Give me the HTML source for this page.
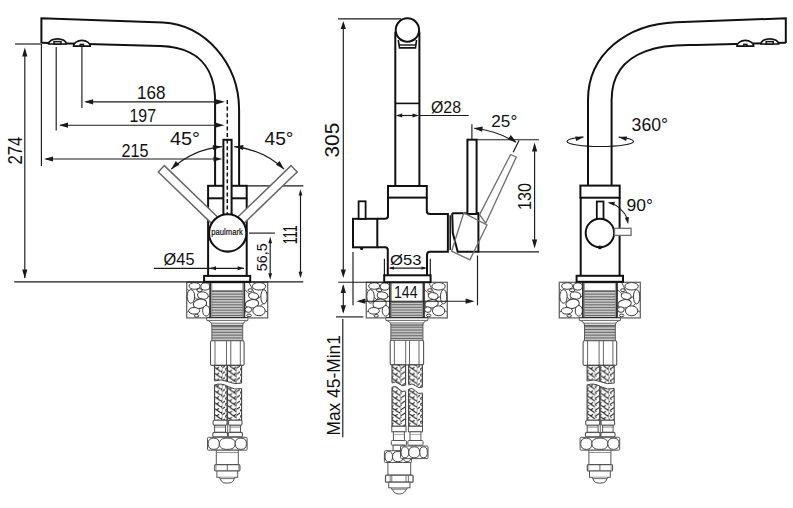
<!DOCTYPE html>
<html><head><meta charset="utf-8"><style>
html,body{margin:0;padding:0;background:#fff;overflow:hidden;width:793px;height:508px;}
svg{display:block;font-family:"Liberation Sans",sans-serif;}
</style></head><body>
<svg width="793" height="508" viewBox="0 0 793 508">
<rect width="793" height="508" fill="#fff"/>
<defs><pattern id="bL" patternUnits="userSpaceOnUse" width="8.5" height="5.9"><rect width="8.5" height="5.9" fill="#fff"/><path d="M0,0 L8.5,5.9 M-8.5,0 L0,5.9 M8.5,-5.9 L17,0 M0,5.9 L2.4,4.2 M4.25,2.95 L6.6,1.3" stroke="#262626" stroke-width="1.1" fill="none"/></pattern><pattern id="bR" patternUnits="userSpaceOnUse" width="5" height="5.9"><rect width="5" height="5.9" fill="#fff"/><path d="M5,0 L0,3.3 M5,5.9 L0,9.2 M5,-5.9 L0,-2.6 M0,3.3 L1.6,4.6" stroke="#262626" stroke-width="1.1" fill="none"/></pattern></defs>
<rect x="186.70" y="282.30" width="23.60" height="35.60" rx="0" stroke="#666" stroke-width="1.3" fill="#fff"/>
<rect x="244.30" y="282.30" width="23.40" height="35.60" rx="0" stroke="#666" stroke-width="1.3" fill="#fff"/>
<line x1="187.30" y1="289.00" x2="197.30" y2="300.00" stroke="#444" stroke-width="0.9" />
<line x1="197.30" y1="300.00" x2="210.30" y2="296.00" stroke="#444" stroke-width="0.9" />
<line x1="187.30" y1="312.00" x2="200.30" y2="305.00" stroke="#444" stroke-width="0.9" />
<line x1="200.30" y1="305.00" x2="210.30" y2="312.00" stroke="#444" stroke-width="0.9" />
<line x1="191.30" y1="283.00" x2="199.30" y2="292.00" stroke="#444" stroke-width="0.9" />
<line x1="205.30" y1="283.00" x2="197.30" y2="300.00" stroke="#444" stroke-width="0.9" />
<line x1="244.30" y1="289.00" x2="255.30" y2="300.00" stroke="#444" stroke-width="0.9" />
<line x1="255.30" y1="300.00" x2="267.30" y2="292.00" stroke="#444" stroke-width="0.9" />
<line x1="244.30" y1="313.00" x2="254.30" y2="304.00" stroke="#444" stroke-width="0.9" />
<line x1="254.30" y1="304.00" x2="267.30" y2="312.00" stroke="#444" stroke-width="0.9" />
<line x1="249.30" y1="283.00" x2="255.30" y2="295.00" stroke="#444" stroke-width="0.9" />
<line x1="267.30" y1="300.00" x2="260.30" y2="306.00" stroke="#444" stroke-width="0.9" />
<ellipse cx="194.60" cy="286.00" rx="5.60" ry="3.30" transform="rotate(0 194.60 286.00)" fill="#fff" stroke="#3a3a3a" stroke-width="1.0"/>
<ellipse cx="205.30" cy="286.50" rx="4.48" ry="3.63" transform="rotate(0 205.30 286.50)" fill="#fff" stroke="#3a3a3a" stroke-width="1.0"/>
<ellipse cx="199.50" cy="290.20" rx="2.58" ry="1.54" transform="rotate(0 199.50 290.20)" fill="#fff" stroke="#3a3a3a" stroke-width="1.0"/>
<ellipse cx="190.90" cy="296.40" rx="3.70" ry="6.82" transform="rotate(0 190.90 296.40)" fill="#fff" stroke="#3a3a3a" stroke-width="1.0"/>
<ellipse cx="202.90" cy="295.50" rx="5.38" ry="3.52" transform="rotate(10 202.90 295.50)" fill="#fff" stroke="#3a3a3a" stroke-width="1.0"/>
<ellipse cx="200.00" cy="303.80" rx="6.72" ry="4.62" transform="rotate(-10 200.00 303.80)" fill="#fff" stroke="#3a3a3a" stroke-width="1.0"/>
<ellipse cx="194.20" cy="310.80" rx="5.60" ry="3.30" transform="rotate(0 194.20 310.80)" fill="#fff" stroke="#3a3a3a" stroke-width="1.0"/>
<ellipse cx="206.20" cy="310.80" rx="3.58" ry="5.28" transform="rotate(0 206.20 310.80)" fill="#fff" stroke="#3a3a3a" stroke-width="1.0"/>
<ellipse cx="196.60" cy="315.80" rx="2.24" ry="1.32" transform="rotate(0 196.60 315.80)" fill="#fff" stroke="#3a3a3a" stroke-width="1.0"/>
<ellipse cx="259.00" cy="286.30" rx="6.72" ry="3.74" transform="rotate(0 259.00 286.30)" fill="#fff" stroke="#3a3a3a" stroke-width="1.0"/>
<ellipse cx="250.30" cy="290.20" rx="2.24" ry="1.43" transform="rotate(0 250.30 290.20)" fill="#fff" stroke="#3a3a3a" stroke-width="1.0"/>
<ellipse cx="253.60" cy="296.00" rx="5.04" ry="3.30" transform="rotate(10 253.60 296.00)" fill="#fff" stroke="#3a3a3a" stroke-width="1.0"/>
<ellipse cx="264.00" cy="296.80" rx="3.14" ry="7.15" transform="rotate(0 264.00 296.80)" fill="#fff" stroke="#3a3a3a" stroke-width="1.0"/>
<ellipse cx="252.00" cy="303.80" rx="6.72" ry="4.18" transform="rotate(-10 252.00 303.80)" fill="#fff" stroke="#3a3a3a" stroke-width="1.0"/>
<ellipse cx="259.00" cy="310.80" rx="6.16" ry="4.95" transform="rotate(0 259.00 310.80)" fill="#fff" stroke="#3a3a3a" stroke-width="1.0"/>
<ellipse cx="248.30" cy="309.60" rx="3.36" ry="2.75" transform="rotate(0 248.30 309.60)" fill="#fff" stroke="#3a3a3a" stroke-width="1.0"/>
<ellipse cx="249.10" cy="315.40" rx="2.24" ry="1.32" transform="rotate(0 249.10 315.40)" fill="#fff" stroke="#3a3a3a" stroke-width="1.0"/>
<rect x="210.30" y="282.30" width="34.00" height="35.60" rx="0" stroke="#333" stroke-width="1.8" fill="#fff"/>
<line x1="211.80" y1="282.30" x2="211.80" y2="317.90" stroke="#777" stroke-width="0.8" />
<line x1="242.80" y1="282.30" x2="242.80" y2="317.90" stroke="#777" stroke-width="0.8" />
<line x1="211.80" y1="291.50" x2="242.80" y2="291.50" stroke="#6a6a6a" stroke-width="1.0" />
<line x1="211.80" y1="293.10" x2="242.80" y2="293.10" stroke="#6a6a6a" stroke-width="1.0" />
<line x1="211.80" y1="294.70" x2="242.80" y2="294.70" stroke="#6a6a6a" stroke-width="1.0" />
<line x1="211.80" y1="296.30" x2="242.80" y2="296.30" stroke="#6a6a6a" stroke-width="1.0" />
<line x1="211.80" y1="297.90" x2="242.80" y2="297.90" stroke="#6a6a6a" stroke-width="1.0" />
<line x1="211.80" y1="299.50" x2="242.80" y2="299.50" stroke="#6a6a6a" stroke-width="1.0" />
<line x1="211.80" y1="301.10" x2="242.80" y2="301.10" stroke="#6a6a6a" stroke-width="1.0" />
<line x1="211.80" y1="302.70" x2="242.80" y2="302.70" stroke="#6a6a6a" stroke-width="1.0" />
<line x1="211.80" y1="304.30" x2="242.80" y2="304.30" stroke="#6a6a6a" stroke-width="1.0" />
<line x1="211.80" y1="305.90" x2="242.80" y2="305.90" stroke="#6a6a6a" stroke-width="1.0" />
<line x1="211.80" y1="307.50" x2="242.80" y2="307.50" stroke="#6a6a6a" stroke-width="1.0" />
<line x1="211.80" y1="309.10" x2="242.80" y2="309.10" stroke="#6a6a6a" stroke-width="1.0" />
<line x1="211.80" y1="310.70" x2="242.80" y2="310.70" stroke="#6a6a6a" stroke-width="1.0" />
<line x1="211.80" y1="312.30" x2="242.80" y2="312.30" stroke="#6a6a6a" stroke-width="1.0" />
<line x1="211.80" y1="313.90" x2="242.80" y2="313.90" stroke="#6a6a6a" stroke-width="1.0" />
<line x1="211.80" y1="315.50" x2="242.80" y2="315.50" stroke="#6a6a6a" stroke-width="1.0" />
<line x1="211.80" y1="317.10" x2="242.80" y2="317.10" stroke="#6a6a6a" stroke-width="1.0" />
<line x1="211.80" y1="290.90" x2="242.80" y2="290.90" stroke="#666" stroke-width="1.3" />
<rect x="366.30" y="282.30" width="23.60" height="35.60" rx="0" stroke="#666" stroke-width="1.3" fill="#fff"/>
<rect x="423.90" y="282.30" width="23.40" height="35.60" rx="0" stroke="#666" stroke-width="1.3" fill="#fff"/>
<line x1="366.90" y1="289.00" x2="376.90" y2="300.00" stroke="#444" stroke-width="0.9" />
<line x1="376.90" y1="300.00" x2="389.90" y2="296.00" stroke="#444" stroke-width="0.9" />
<line x1="366.90" y1="312.00" x2="379.90" y2="305.00" stroke="#444" stroke-width="0.9" />
<line x1="379.90" y1="305.00" x2="389.90" y2="312.00" stroke="#444" stroke-width="0.9" />
<line x1="370.90" y1="283.00" x2="378.90" y2="292.00" stroke="#444" stroke-width="0.9" />
<line x1="384.90" y1="283.00" x2="376.90" y2="300.00" stroke="#444" stroke-width="0.9" />
<line x1="423.90" y1="289.00" x2="434.90" y2="300.00" stroke="#444" stroke-width="0.9" />
<line x1="434.90" y1="300.00" x2="446.90" y2="292.00" stroke="#444" stroke-width="0.9" />
<line x1="423.90" y1="313.00" x2="433.90" y2="304.00" stroke="#444" stroke-width="0.9" />
<line x1="433.90" y1="304.00" x2="446.90" y2="312.00" stroke="#444" stroke-width="0.9" />
<line x1="428.90" y1="283.00" x2="434.90" y2="295.00" stroke="#444" stroke-width="0.9" />
<line x1="446.90" y1="300.00" x2="439.90" y2="306.00" stroke="#444" stroke-width="0.9" />
<ellipse cx="374.20" cy="286.00" rx="5.60" ry="3.30" transform="rotate(0 374.20 286.00)" fill="#fff" stroke="#3a3a3a" stroke-width="1.0"/>
<ellipse cx="384.90" cy="286.50" rx="4.48" ry="3.63" transform="rotate(0 384.90 286.50)" fill="#fff" stroke="#3a3a3a" stroke-width="1.0"/>
<ellipse cx="379.10" cy="290.20" rx="2.58" ry="1.54" transform="rotate(0 379.10 290.20)" fill="#fff" stroke="#3a3a3a" stroke-width="1.0"/>
<ellipse cx="370.50" cy="296.40" rx="3.70" ry="6.82" transform="rotate(0 370.50 296.40)" fill="#fff" stroke="#3a3a3a" stroke-width="1.0"/>
<ellipse cx="382.50" cy="295.50" rx="5.38" ry="3.52" transform="rotate(10 382.50 295.50)" fill="#fff" stroke="#3a3a3a" stroke-width="1.0"/>
<ellipse cx="379.60" cy="303.80" rx="6.72" ry="4.62" transform="rotate(-10 379.60 303.80)" fill="#fff" stroke="#3a3a3a" stroke-width="1.0"/>
<ellipse cx="373.80" cy="310.80" rx="5.60" ry="3.30" transform="rotate(0 373.80 310.80)" fill="#fff" stroke="#3a3a3a" stroke-width="1.0"/>
<ellipse cx="385.80" cy="310.80" rx="3.58" ry="5.28" transform="rotate(0 385.80 310.80)" fill="#fff" stroke="#3a3a3a" stroke-width="1.0"/>
<ellipse cx="376.20" cy="315.80" rx="2.24" ry="1.32" transform="rotate(0 376.20 315.80)" fill="#fff" stroke="#3a3a3a" stroke-width="1.0"/>
<ellipse cx="438.60" cy="286.30" rx="6.72" ry="3.74" transform="rotate(0 438.60 286.30)" fill="#fff" stroke="#3a3a3a" stroke-width="1.0"/>
<ellipse cx="429.90" cy="290.20" rx="2.24" ry="1.43" transform="rotate(0 429.90 290.20)" fill="#fff" stroke="#3a3a3a" stroke-width="1.0"/>
<ellipse cx="433.20" cy="296.00" rx="5.04" ry="3.30" transform="rotate(10 433.20 296.00)" fill="#fff" stroke="#3a3a3a" stroke-width="1.0"/>
<ellipse cx="443.60" cy="296.80" rx="3.14" ry="7.15" transform="rotate(0 443.60 296.80)" fill="#fff" stroke="#3a3a3a" stroke-width="1.0"/>
<ellipse cx="431.60" cy="303.80" rx="6.72" ry="4.18" transform="rotate(-10 431.60 303.80)" fill="#fff" stroke="#3a3a3a" stroke-width="1.0"/>
<ellipse cx="438.60" cy="310.80" rx="6.16" ry="4.95" transform="rotate(0 438.60 310.80)" fill="#fff" stroke="#3a3a3a" stroke-width="1.0"/>
<ellipse cx="427.90" cy="309.60" rx="3.36" ry="2.75" transform="rotate(0 427.90 309.60)" fill="#fff" stroke="#3a3a3a" stroke-width="1.0"/>
<ellipse cx="428.70" cy="315.40" rx="2.24" ry="1.32" transform="rotate(0 428.70 315.40)" fill="#fff" stroke="#3a3a3a" stroke-width="1.0"/>
<rect x="389.90" y="282.30" width="34.00" height="35.60" rx="0" stroke="#333" stroke-width="1.8" fill="#fff"/>
<line x1="391.40" y1="282.30" x2="391.40" y2="317.90" stroke="#777" stroke-width="0.8" />
<line x1="422.40" y1="282.30" x2="422.40" y2="317.90" stroke="#777" stroke-width="0.8" />
<line x1="391.40" y1="302.80" x2="422.40" y2="302.80" stroke="#6a6a6a" stroke-width="1.0" />
<line x1="391.40" y1="304.40" x2="422.40" y2="304.40" stroke="#6a6a6a" stroke-width="1.0" />
<line x1="391.40" y1="306.00" x2="422.40" y2="306.00" stroke="#6a6a6a" stroke-width="1.0" />
<line x1="391.40" y1="307.60" x2="422.40" y2="307.60" stroke="#6a6a6a" stroke-width="1.0" />
<line x1="391.40" y1="309.20" x2="422.40" y2="309.20" stroke="#6a6a6a" stroke-width="1.0" />
<line x1="391.40" y1="310.80" x2="422.40" y2="310.80" stroke="#6a6a6a" stroke-width="1.0" />
<line x1="391.40" y1="312.40" x2="422.40" y2="312.40" stroke="#6a6a6a" stroke-width="1.0" />
<line x1="391.40" y1="314.00" x2="422.40" y2="314.00" stroke="#6a6a6a" stroke-width="1.0" />
<line x1="391.40" y1="315.60" x2="422.40" y2="315.60" stroke="#6a6a6a" stroke-width="1.0" />
<line x1="391.40" y1="317.20" x2="422.40" y2="317.20" stroke="#6a6a6a" stroke-width="1.0" />
<line x1="391.40" y1="302.20" x2="422.40" y2="302.20" stroke="#666" stroke-width="1.3" />
<rect x="559.30" y="282.30" width="23.60" height="35.60" rx="0" stroke="#666" stroke-width="1.3" fill="#fff"/>
<rect x="616.90" y="282.30" width="23.40" height="35.60" rx="0" stroke="#666" stroke-width="1.3" fill="#fff"/>
<line x1="559.90" y1="289.00" x2="569.90" y2="300.00" stroke="#444" stroke-width="0.9" />
<line x1="569.90" y1="300.00" x2="582.90" y2="296.00" stroke="#444" stroke-width="0.9" />
<line x1="559.90" y1="312.00" x2="572.90" y2="305.00" stroke="#444" stroke-width="0.9" />
<line x1="572.90" y1="305.00" x2="582.90" y2="312.00" stroke="#444" stroke-width="0.9" />
<line x1="563.90" y1="283.00" x2="571.90" y2="292.00" stroke="#444" stroke-width="0.9" />
<line x1="577.90" y1="283.00" x2="569.90" y2="300.00" stroke="#444" stroke-width="0.9" />
<line x1="616.90" y1="289.00" x2="627.90" y2="300.00" stroke="#444" stroke-width="0.9" />
<line x1="627.90" y1="300.00" x2="639.90" y2="292.00" stroke="#444" stroke-width="0.9" />
<line x1="616.90" y1="313.00" x2="626.90" y2="304.00" stroke="#444" stroke-width="0.9" />
<line x1="626.90" y1="304.00" x2="639.90" y2="312.00" stroke="#444" stroke-width="0.9" />
<line x1="621.90" y1="283.00" x2="627.90" y2="295.00" stroke="#444" stroke-width="0.9" />
<line x1="639.90" y1="300.00" x2="632.90" y2="306.00" stroke="#444" stroke-width="0.9" />
<ellipse cx="567.20" cy="286.00" rx="5.60" ry="3.30" transform="rotate(0 567.20 286.00)" fill="#fff" stroke="#3a3a3a" stroke-width="1.0"/>
<ellipse cx="577.90" cy="286.50" rx="4.48" ry="3.63" transform="rotate(0 577.90 286.50)" fill="#fff" stroke="#3a3a3a" stroke-width="1.0"/>
<ellipse cx="572.10" cy="290.20" rx="2.58" ry="1.54" transform="rotate(0 572.10 290.20)" fill="#fff" stroke="#3a3a3a" stroke-width="1.0"/>
<ellipse cx="563.50" cy="296.40" rx="3.70" ry="6.82" transform="rotate(0 563.50 296.40)" fill="#fff" stroke="#3a3a3a" stroke-width="1.0"/>
<ellipse cx="575.50" cy="295.50" rx="5.38" ry="3.52" transform="rotate(10 575.50 295.50)" fill="#fff" stroke="#3a3a3a" stroke-width="1.0"/>
<ellipse cx="572.60" cy="303.80" rx="6.72" ry="4.62" transform="rotate(-10 572.60 303.80)" fill="#fff" stroke="#3a3a3a" stroke-width="1.0"/>
<ellipse cx="566.80" cy="310.80" rx="5.60" ry="3.30" transform="rotate(0 566.80 310.80)" fill="#fff" stroke="#3a3a3a" stroke-width="1.0"/>
<ellipse cx="578.80" cy="310.80" rx="3.58" ry="5.28" transform="rotate(0 578.80 310.80)" fill="#fff" stroke="#3a3a3a" stroke-width="1.0"/>
<ellipse cx="569.20" cy="315.80" rx="2.24" ry="1.32" transform="rotate(0 569.20 315.80)" fill="#fff" stroke="#3a3a3a" stroke-width="1.0"/>
<ellipse cx="631.60" cy="286.30" rx="6.72" ry="3.74" transform="rotate(0 631.60 286.30)" fill="#fff" stroke="#3a3a3a" stroke-width="1.0"/>
<ellipse cx="622.90" cy="290.20" rx="2.24" ry="1.43" transform="rotate(0 622.90 290.20)" fill="#fff" stroke="#3a3a3a" stroke-width="1.0"/>
<ellipse cx="626.20" cy="296.00" rx="5.04" ry="3.30" transform="rotate(10 626.20 296.00)" fill="#fff" stroke="#3a3a3a" stroke-width="1.0"/>
<ellipse cx="636.60" cy="296.80" rx="3.14" ry="7.15" transform="rotate(0 636.60 296.80)" fill="#fff" stroke="#3a3a3a" stroke-width="1.0"/>
<ellipse cx="624.60" cy="303.80" rx="6.72" ry="4.18" transform="rotate(-10 624.60 303.80)" fill="#fff" stroke="#3a3a3a" stroke-width="1.0"/>
<ellipse cx="631.60" cy="310.80" rx="6.16" ry="4.95" transform="rotate(0 631.60 310.80)" fill="#fff" stroke="#3a3a3a" stroke-width="1.0"/>
<ellipse cx="620.90" cy="309.60" rx="3.36" ry="2.75" transform="rotate(0 620.90 309.60)" fill="#fff" stroke="#3a3a3a" stroke-width="1.0"/>
<ellipse cx="621.70" cy="315.40" rx="2.24" ry="1.32" transform="rotate(0 621.70 315.40)" fill="#fff" stroke="#3a3a3a" stroke-width="1.0"/>
<rect x="582.90" y="282.30" width="34.00" height="35.60" rx="0" stroke="#333" stroke-width="1.8" fill="#fff"/>
<line x1="584.40" y1="282.30" x2="584.40" y2="317.90" stroke="#777" stroke-width="0.8" />
<line x1="615.40" y1="282.30" x2="615.40" y2="317.90" stroke="#777" stroke-width="0.8" />
<line x1="584.40" y1="291.50" x2="615.40" y2="291.50" stroke="#6a6a6a" stroke-width="1.0" />
<line x1="584.40" y1="293.10" x2="615.40" y2="293.10" stroke="#6a6a6a" stroke-width="1.0" />
<line x1="584.40" y1="294.70" x2="615.40" y2="294.70" stroke="#6a6a6a" stroke-width="1.0" />
<line x1="584.40" y1="296.30" x2="615.40" y2="296.30" stroke="#6a6a6a" stroke-width="1.0" />
<line x1="584.40" y1="297.90" x2="615.40" y2="297.90" stroke="#6a6a6a" stroke-width="1.0" />
<line x1="584.40" y1="299.50" x2="615.40" y2="299.50" stroke="#6a6a6a" stroke-width="1.0" />
<line x1="584.40" y1="301.10" x2="615.40" y2="301.10" stroke="#6a6a6a" stroke-width="1.0" />
<line x1="584.40" y1="302.70" x2="615.40" y2="302.70" stroke="#6a6a6a" stroke-width="1.0" />
<line x1="584.40" y1="304.30" x2="615.40" y2="304.30" stroke="#6a6a6a" stroke-width="1.0" />
<line x1="584.40" y1="305.90" x2="615.40" y2="305.90" stroke="#6a6a6a" stroke-width="1.0" />
<line x1="584.40" y1="307.50" x2="615.40" y2="307.50" stroke="#6a6a6a" stroke-width="1.0" />
<line x1="584.40" y1="309.10" x2="615.40" y2="309.10" stroke="#6a6a6a" stroke-width="1.0" />
<line x1="584.40" y1="310.70" x2="615.40" y2="310.70" stroke="#6a6a6a" stroke-width="1.0" />
<line x1="584.40" y1="312.30" x2="615.40" y2="312.30" stroke="#6a6a6a" stroke-width="1.0" />
<line x1="584.40" y1="313.90" x2="615.40" y2="313.90" stroke="#6a6a6a" stroke-width="1.0" />
<line x1="584.40" y1="315.50" x2="615.40" y2="315.50" stroke="#6a6a6a" stroke-width="1.0" />
<line x1="584.40" y1="317.10" x2="615.40" y2="317.10" stroke="#6a6a6a" stroke-width="1.0" />
<line x1="584.40" y1="290.90" x2="615.40" y2="290.90" stroke="#666" stroke-width="1.3" />
<line x1="206.70" y1="318.30" x2="247.90" y2="318.30" stroke="#222" stroke-width="2" />
<path d="M206.70000000000002,318.3 L206.70000000000002,320.3 Q211.9,321.5 211.9,325.4 L242.70000000000002,325.4 Q242.70000000000002,321.5 247.9,320.3 L247.9,318.3" stroke="#555" stroke-width="1.0" fill="#fff" />
<line x1="208.30" y1="320.40" x2="246.30" y2="320.40" stroke="#555" stroke-width="0.9" />
<line x1="210.80" y1="323.20" x2="243.80" y2="323.20" stroke="#555" stroke-width="0.9" />
<rect x="211.90" y="325.40" width="30.80" height="15.40" rx="0" stroke="#555" stroke-width="1.0" fill="#fff"/>
<line x1="211.90" y1="326.40" x2="242.70" y2="326.40" stroke="#6a6a6a" stroke-width="1.0" />
<line x1="211.90" y1="327.95" x2="242.70" y2="327.95" stroke="#6a6a6a" stroke-width="1.0" />
<line x1="211.90" y1="329.50" x2="242.70" y2="329.50" stroke="#6a6a6a" stroke-width="1.0" />
<line x1="211.90" y1="331.05" x2="242.70" y2="331.05" stroke="#6a6a6a" stroke-width="1.0" />
<line x1="211.90" y1="332.60" x2="242.70" y2="332.60" stroke="#6a6a6a" stroke-width="1.0" />
<line x1="211.90" y1="334.15" x2="242.70" y2="334.15" stroke="#6a6a6a" stroke-width="1.0" />
<line x1="211.90" y1="335.70" x2="242.70" y2="335.70" stroke="#6a6a6a" stroke-width="1.0" />
<line x1="211.90" y1="337.25" x2="242.70" y2="337.25" stroke="#6a6a6a" stroke-width="1.0" />
<line x1="211.90" y1="338.80" x2="242.70" y2="338.80" stroke="#6a6a6a" stroke-width="1.0" />
<line x1="211.90" y1="340.35" x2="242.70" y2="340.35" stroke="#6a6a6a" stroke-width="1.0" />
<rect x="210.50" y="340.80" width="33.60" height="24.60" rx="1.5" stroke="#555" stroke-width="1.1" fill="#fff"/>
<line x1="215.00" y1="341.00" x2="215.00" y2="365.20" stroke="#555" stroke-width="0.9" />
<line x1="226.50" y1="341.00" x2="226.50" y2="365.20" stroke="#555" stroke-width="0.9" />
<line x1="230.80" y1="341.00" x2="230.80" y2="365.20" stroke="#555" stroke-width="0.9" />
<line x1="240.30" y1="341.00" x2="240.30" y2="365.20" stroke="#555" stroke-width="0.9" />
<rect x="214.50" y="365.40" width="7.81" height="54.90" fill="url(#bL)"/>
<rect x="222.31" y="365.40" width="4.79" height="54.90" fill="url(#bR)"/>
<rect x="214.50" y="365.40" width="12.60" height="54.90" fill="none" stroke="#444" stroke-width="1.1"/>
<line x1="222.31" y1="365.40" x2="222.31" y2="420.30" stroke="#999" stroke-width="0.7" />
<rect x="227.50" y="365.40" width="8.74" height="54.90" fill="url(#bL)"/>
<rect x="236.24" y="365.40" width="5.36" height="54.90" fill="url(#bR)"/>
<rect x="227.50" y="365.40" width="14.10" height="54.90" fill="none" stroke="#444" stroke-width="1.1"/>
<line x1="236.24" y1="365.40" x2="236.24" y2="420.30" stroke="#999" stroke-width="0.7" />
<path d="M213.5,381.0 Q221.275,378.5 228.05,381.7 T242.60000000000002,383.0 L242.60000000000002,388.5 Q234.82500000000002,390.5 228.05,386.5 T213.5,385 Z" stroke="#fff" stroke-width="0.01" fill="#fff" />
<path d="M214.5,381.0 Q221.275,378.5 228.05,381.7 T241.60000000000002,383.0" stroke="#444" stroke-width="1.0" fill="none" />
<path d="M241.60000000000002,388.5 Q234.82500000000002,390.5 228.05,386.5 T214.5,385" stroke="#444" stroke-width="1.0" fill="none" />
<rect x="213.10" y="420.30" width="13.90" height="5.00" rx="1.2" stroke="#555" stroke-width="1.1" fill="#fff"/>
<rect x="214.60" y="425.30" width="10.90" height="7.10" rx="0" stroke="#555" stroke-width="1.0" fill="#fff"/>
<line x1="214.60" y1="427.10" x2="225.50" y2="427.10" stroke="#666" stroke-width="0.8" />
<rect x="212.80" y="432.40" width="14.70" height="4.50" rx="1.5" stroke="#555" stroke-width="1.1" fill="#fff"/>
<rect x="228.50" y="420.30" width="13.50" height="5.00" rx="1.2" stroke="#555" stroke-width="1.1" fill="#fff"/>
<rect x="230.00" y="425.30" width="10.50" height="7.10" rx="0" stroke="#555" stroke-width="1.0" fill="#fff"/>
<line x1="230.00" y1="427.10" x2="240.50" y2="427.10" stroke="#666" stroke-width="0.8" />
<rect x="228.20" y="432.40" width="14.30" height="4.50" rx="1.5" stroke="#555" stroke-width="1.1" fill="#fff"/>
<line x1="227.70" y1="420.30" x2="227.70" y2="437.00" stroke="#555" stroke-width="0.9" />
<rect x="207.50" y="437.30" width="39.60" height="12.90" rx="1" stroke="#555" stroke-width="1.0" fill="#fff"/>
<path d="M208.10,443.75 C208.10,439.88 210.13,438.10 213.74,438.10 C217.35,438.10 219.38,439.88 219.38,443.75 C219.38,447.62 217.35,449.40 213.74,449.40 C210.13,449.40 208.10,447.62 208.10,443.75 Z" fill="#fff" stroke="#444" stroke-width="1"/>
<path d="M219.38,443.75 C219.38,439.88 222.23,438.10 227.30,438.10 C232.37,438.10 235.22,439.88 235.22,443.75 C235.22,447.62 232.37,449.40 227.30,449.40 C222.23,449.40 219.38,447.62 219.38,443.75 Z" fill="#fff" stroke="#444" stroke-width="1"/>
<path d="M235.22,443.75 C235.22,439.88 237.25,438.10 240.86,438.10 C244.47,438.10 246.50,439.88 246.50,443.75 C246.50,447.62 244.47,449.40 240.86,449.40 C237.25,449.40 235.22,447.62 235.22,443.75 Z" fill="#fff" stroke="#444" stroke-width="1"/>
<rect x="216.30" y="450.20" width="22.00" height="14.50" rx="0" stroke="#555" stroke-width="1.0" fill="#fff"/>
<line x1="216.30" y1="452.50" x2="238.30" y2="452.50" stroke="#777" stroke-width="0.8" />
<rect x="214.70" y="464.70" width="25.20" height="6.30" rx="1" stroke="#555" stroke-width="1.2" fill="#fff"/>
<line x1="227.30" y1="464.70" x2="227.30" y2="471.00" stroke="#555" stroke-width="0.9" />
<line x1="216.10" y1="464.70" x2="216.10" y2="471.00" stroke="#888" stroke-width="0.7" />
<line x1="238.50" y1="464.70" x2="238.50" y2="471.00" stroke="#888" stroke-width="0.7" />
<rect x="216.90" y="471.00" width="20.80" height="6.30" rx="0" stroke="#555" stroke-width="1.0" fill="#fff"/>
<path d="M219.8,477.3 L221.3,481 Q222.3,483.2 227.3,483.2 Q232.3,483.2 233.3,481 L234.8,477.3" stroke="#555" stroke-width="1.0" fill="#fff" />
<line x1="219.30" y1="478.40" x2="235.30" y2="478.40" stroke="#777" stroke-width="1.4" />
<line x1="579.30" y1="318.30" x2="620.50" y2="318.30" stroke="#222" stroke-width="2" />
<path d="M579.3,318.3 L579.3,320.3 Q584.5,321.5 584.5,325.4 L615.3,325.4 Q615.3,321.5 620.5,320.3 L620.5,318.3" stroke="#555" stroke-width="1.0" fill="#fff" />
<line x1="580.90" y1="320.40" x2="618.90" y2="320.40" stroke="#555" stroke-width="0.9" />
<line x1="583.40" y1="323.20" x2="616.40" y2="323.20" stroke="#555" stroke-width="0.9" />
<rect x="584.50" y="325.40" width="30.80" height="15.40" rx="0" stroke="#555" stroke-width="1.0" fill="#fff"/>
<line x1="584.50" y1="326.40" x2="615.30" y2="326.40" stroke="#6a6a6a" stroke-width="1.0" />
<line x1="584.50" y1="327.95" x2="615.30" y2="327.95" stroke="#6a6a6a" stroke-width="1.0" />
<line x1="584.50" y1="329.50" x2="615.30" y2="329.50" stroke="#6a6a6a" stroke-width="1.0" />
<line x1="584.50" y1="331.05" x2="615.30" y2="331.05" stroke="#6a6a6a" stroke-width="1.0" />
<line x1="584.50" y1="332.60" x2="615.30" y2="332.60" stroke="#6a6a6a" stroke-width="1.0" />
<line x1="584.50" y1="334.15" x2="615.30" y2="334.15" stroke="#6a6a6a" stroke-width="1.0" />
<line x1="584.50" y1="335.70" x2="615.30" y2="335.70" stroke="#6a6a6a" stroke-width="1.0" />
<line x1="584.50" y1="337.25" x2="615.30" y2="337.25" stroke="#6a6a6a" stroke-width="1.0" />
<line x1="584.50" y1="338.80" x2="615.30" y2="338.80" stroke="#6a6a6a" stroke-width="1.0" />
<line x1="584.50" y1="340.35" x2="615.30" y2="340.35" stroke="#6a6a6a" stroke-width="1.0" />
<rect x="583.10" y="340.80" width="33.60" height="24.60" rx="1.5" stroke="#555" stroke-width="1.1" fill="#fff"/>
<line x1="587.60" y1="341.00" x2="587.60" y2="365.20" stroke="#555" stroke-width="0.9" />
<line x1="599.10" y1="341.00" x2="599.10" y2="365.20" stroke="#555" stroke-width="0.9" />
<line x1="603.40" y1="341.00" x2="603.40" y2="365.20" stroke="#555" stroke-width="0.9" />
<line x1="612.90" y1="341.00" x2="612.90" y2="365.20" stroke="#555" stroke-width="0.9" />
<rect x="587.10" y="365.40" width="7.81" height="54.90" fill="url(#bL)"/>
<rect x="594.91" y="365.40" width="4.79" height="54.90" fill="url(#bR)"/>
<rect x="587.10" y="365.40" width="12.60" height="54.90" fill="none" stroke="#444" stroke-width="1.1"/>
<line x1="594.91" y1="365.40" x2="594.91" y2="420.30" stroke="#999" stroke-width="0.7" />
<rect x="600.10" y="365.40" width="8.74" height="54.90" fill="url(#bL)"/>
<rect x="608.84" y="365.40" width="5.36" height="54.90" fill="url(#bR)"/>
<rect x="600.10" y="365.40" width="14.10" height="54.90" fill="none" stroke="#444" stroke-width="1.1"/>
<line x1="608.84" y1="365.40" x2="608.84" y2="420.30" stroke="#999" stroke-width="0.7" />
<path d="M586.1,381.0 Q593.875,378.5 600.65,381.7 T615.1999999999999,383.0 L615.1999999999999,388.5 Q607.425,390.5 600.65,386.5 T586.1,385 Z" stroke="#fff" stroke-width="0.01" fill="#fff" />
<path d="M587.1,381.0 Q593.875,378.5 600.65,381.7 T614.1999999999999,383.0" stroke="#444" stroke-width="1.0" fill="none" />
<path d="M614.1999999999999,388.5 Q607.425,390.5 600.65,386.5 T587.1,385" stroke="#444" stroke-width="1.0" fill="none" />
<rect x="585.70" y="420.30" width="13.90" height="5.00" rx="1.2" stroke="#555" stroke-width="1.1" fill="#fff"/>
<rect x="587.20" y="425.30" width="10.90" height="7.10" rx="0" stroke="#555" stroke-width="1.0" fill="#fff"/>
<line x1="587.20" y1="427.10" x2="598.10" y2="427.10" stroke="#666" stroke-width="0.8" />
<rect x="585.40" y="432.40" width="14.70" height="4.50" rx="1.5" stroke="#555" stroke-width="1.1" fill="#fff"/>
<rect x="601.10" y="420.30" width="13.50" height="5.00" rx="1.2" stroke="#555" stroke-width="1.1" fill="#fff"/>
<rect x="602.60" y="425.30" width="10.50" height="7.10" rx="0" stroke="#555" stroke-width="1.0" fill="#fff"/>
<line x1="602.60" y1="427.10" x2="613.10" y2="427.10" stroke="#666" stroke-width="0.8" />
<rect x="600.80" y="432.40" width="14.30" height="4.50" rx="1.5" stroke="#555" stroke-width="1.1" fill="#fff"/>
<line x1="600.30" y1="420.30" x2="600.30" y2="437.00" stroke="#555" stroke-width="0.9" />
<rect x="580.10" y="437.30" width="39.60" height="12.90" rx="1" stroke="#555" stroke-width="1.0" fill="#fff"/>
<path d="M580.70,443.75 C580.70,439.88 582.73,438.10 586.34,438.10 C589.95,438.10 591.98,439.88 591.98,443.75 C591.98,447.62 589.95,449.40 586.34,449.40 C582.73,449.40 580.70,447.62 580.70,443.75 Z" fill="#fff" stroke="#444" stroke-width="1"/>
<path d="M591.98,443.75 C591.98,439.88 594.83,438.10 599.90,438.10 C604.97,438.10 607.82,439.88 607.82,443.75 C607.82,447.62 604.97,449.40 599.90,449.40 C594.83,449.40 591.98,447.62 591.98,443.75 Z" fill="#fff" stroke="#444" stroke-width="1"/>
<path d="M607.82,443.75 C607.82,439.88 609.85,438.10 613.46,438.10 C617.07,438.10 619.10,439.88 619.10,443.75 C619.10,447.62 617.07,449.40 613.46,449.40 C609.85,449.40 607.82,447.62 607.82,443.75 Z" fill="#fff" stroke="#444" stroke-width="1"/>
<rect x="588.90" y="450.20" width="22.00" height="14.50" rx="0" stroke="#555" stroke-width="1.0" fill="#fff"/>
<line x1="588.90" y1="452.50" x2="610.90" y2="452.50" stroke="#777" stroke-width="0.8" />
<rect x="587.30" y="464.70" width="25.20" height="6.30" rx="1" stroke="#555" stroke-width="1.2" fill="#fff"/>
<line x1="599.90" y1="464.70" x2="599.90" y2="471.00" stroke="#555" stroke-width="0.9" />
<line x1="588.70" y1="464.70" x2="588.70" y2="471.00" stroke="#888" stroke-width="0.7" />
<line x1="611.10" y1="464.70" x2="611.10" y2="471.00" stroke="#888" stroke-width="0.7" />
<rect x="589.50" y="471.00" width="20.80" height="6.30" rx="0" stroke="#555" stroke-width="1.0" fill="#fff"/>
<path d="M592.4,477.3 L593.9,481 Q594.9,483.2 599.9,483.2 Q604.9,483.2 605.9,481 L607.4,477.3" stroke="#555" stroke-width="1.0" fill="#fff" />
<line x1="591.90" y1="478.40" x2="607.90" y2="478.40" stroke="#777" stroke-width="1.4" />
<line x1="385.90" y1="318.30" x2="427.90" y2="318.30" stroke="#222" stroke-width="2" />
<path d="M385.9,318.3 L385.9,320.3 Q390.9,321.5 390.9,325.1 L422.9,325.1 Q422.9,321.5 427.9,320.3 L427.9,318.3" stroke="#555" stroke-width="1.0" fill="#fff" />
<line x1="387.40" y1="320.40" x2="426.40" y2="320.40" stroke="#555" stroke-width="0.9" />
<line x1="389.90" y1="323.00" x2="423.90" y2="323.00" stroke="#555" stroke-width="0.9" />
<rect x="390.90" y="325.10" width="32.00" height="15.20" rx="0" stroke="#555" stroke-width="1.0" fill="#fff"/>
<line x1="390.90" y1="326.10" x2="422.90" y2="326.10" stroke="#6a6a6a" stroke-width="1.0" />
<line x1="390.90" y1="327.65" x2="422.90" y2="327.65" stroke="#6a6a6a" stroke-width="1.0" />
<line x1="390.90" y1="329.20" x2="422.90" y2="329.20" stroke="#6a6a6a" stroke-width="1.0" />
<line x1="390.90" y1="330.75" x2="422.90" y2="330.75" stroke="#6a6a6a" stroke-width="1.0" />
<line x1="390.90" y1="332.30" x2="422.90" y2="332.30" stroke="#6a6a6a" stroke-width="1.0" />
<line x1="390.90" y1="333.85" x2="422.90" y2="333.85" stroke="#6a6a6a" stroke-width="1.0" />
<line x1="390.90" y1="335.40" x2="422.90" y2="335.40" stroke="#6a6a6a" stroke-width="1.0" />
<line x1="390.90" y1="336.95" x2="422.90" y2="336.95" stroke="#6a6a6a" stroke-width="1.0" />
<line x1="390.90" y1="338.50" x2="422.90" y2="338.50" stroke="#6a6a6a" stroke-width="1.0" />
<rect x="390.20" y="340.30" width="33.40" height="24.60" rx="1.5" stroke="#555" stroke-width="1.1" fill="#fff"/>
<line x1="394.40" y1="340.50" x2="394.40" y2="364.70" stroke="#555" stroke-width="0.9" />
<line x1="405.70" y1="340.50" x2="405.70" y2="364.70" stroke="#555" stroke-width="0.9" />
<line x1="409.50" y1="340.50" x2="409.50" y2="364.70" stroke="#555" stroke-width="0.9" />
<line x1="419.00" y1="340.50" x2="419.00" y2="364.70" stroke="#555" stroke-width="0.9" />
<rect x="392.00" y="364.90" width="8.43" height="61.40" fill="url(#bL)"/>
<rect x="400.43" y="364.90" width="5.17" height="61.40" fill="url(#bR)"/>
<rect x="392.00" y="364.90" width="13.60" height="61.40" fill="none" stroke="#444" stroke-width="1.1"/>
<line x1="400.43" y1="364.90" x2="400.43" y2="426.30" stroke="#999" stroke-width="0.7" />
<path d="M391.0,383.0 Q395.4,380.5 398.8,383.7 T406.6,385.0 L406.6,391.0 Q402.20000000000005,393.0 398.8,389.0 T391.0,387.5 Z" stroke="#fff" stroke-width="0.01" fill="#fff" />
<path d="M392.0,383.0 Q395.4,380.5 398.8,383.7 T405.6,385.0" stroke="#444" stroke-width="1.0" fill="none" />
<path d="M405.6,391.0 Q402.20000000000005,393.0 398.8,389.0 T392.0,387.5" stroke="#444" stroke-width="1.0" fill="none" />
<rect x="408.60" y="364.90" width="8.56" height="61.40" fill="url(#bL)"/>
<rect x="417.16" y="364.90" width="5.24" height="61.40" fill="url(#bR)"/>
<rect x="408.60" y="364.90" width="13.80" height="61.40" fill="none" stroke="#444" stroke-width="1.1"/>
<line x1="417.16" y1="364.90" x2="417.16" y2="426.30" stroke="#999" stroke-width="0.7" />
<path d="M407.6,385.0 Q412.05,382.5 415.5,385.7 T423.4,387.0 L423.4,393.0 Q418.95,395.0 415.5,391.0 T407.6,389.5 Z" stroke="#fff" stroke-width="0.01" fill="#fff" />
<path d="M408.6,385.0 Q412.05,382.5 415.5,385.7 T422.4,387.0" stroke="#444" stroke-width="1.0" fill="none" />
<path d="M422.4,393.0 Q418.95,395.0 415.5,391.0 T408.6,389.5" stroke="#444" stroke-width="1.0" fill="none" />
<rect x="391.80" y="426.30" width="14.20" height="5.50" rx="0" stroke="#555" stroke-width="1.0" fill="#fff"/>
<rect x="393.40" y="431.80" width="11.00" height="8.70" rx="0" stroke="#555" stroke-width="1.0" fill="#fff"/>
<line x1="393.40" y1="434.50" x2="404.40" y2="434.50" stroke="#888" stroke-width="0.7" />
<rect x="391.30" y="440.50" width="15.20" height="4.70" rx="1" stroke="#555" stroke-width="1.0" fill="#fff"/>
<rect x="408.40" y="426.30" width="14.10" height="5.50" rx="0" stroke="#555" stroke-width="1.0" fill="#fff"/>
<rect x="410.00" y="431.80" width="10.90" height="8.70" rx="0" stroke="#555" stroke-width="1.0" fill="#fff"/>
<line x1="410.00" y1="434.50" x2="420.90" y2="434.50" stroke="#888" stroke-width="0.7" />
<rect x="407.90" y="440.50" width="15.10" height="4.70" rx="1" stroke="#555" stroke-width="1.0" fill="#fff"/>
<rect x="393.00" y="445.20" width="11.40" height="5.80" rx="0" stroke="#555" stroke-width="1.0" fill="#fff"/>
<rect x="384.40" y="450.70" width="27.10" height="11.80" rx="1" stroke="#555" stroke-width="1.0" fill="#fff"/>
<path d="M385.00,456.60 C385.00,453.06 386.36,451.50 388.76,451.50 C391.17,451.50 392.53,453.06 392.53,456.60 C392.53,460.14 391.17,461.70 388.76,461.70 C386.36,461.70 385.00,460.14 385.00,456.60 Z" fill="#fff" stroke="#444" stroke-width="1"/>
<path d="M392.53,456.60 C392.53,453.06 394.48,451.50 397.95,451.50 C401.42,451.50 403.37,453.06 403.37,456.60 C403.37,460.14 401.42,461.70 397.95,461.70 C394.48,461.70 392.53,460.14 392.53,456.60 Z" fill="#fff" stroke="#444" stroke-width="1"/>
<path d="M403.37,456.60 C403.37,453.06 404.73,451.50 407.13,451.50 C409.54,451.50 410.90,453.06 410.90,456.60 C410.90,460.14 409.54,461.70 407.13,461.70 C404.73,461.70 403.37,460.14 403.37,456.60 Z" fill="#fff" stroke="#444" stroke-width="1"/>
<rect x="400.50" y="446.00" width="27.50" height="12.60" rx="1" stroke="#555" stroke-width="1.0" fill="#fff"/>
<path d="M401.10,452.30 C401.10,448.52 402.48,446.80 404.93,446.80 C407.37,446.80 408.75,448.52 408.75,452.30 C408.75,456.08 407.37,457.80 404.93,457.80 C402.48,457.80 401.10,456.08 401.10,452.30 Z" fill="#fff" stroke="#444" stroke-width="1"/>
<path d="M408.75,452.30 C408.75,448.52 410.73,446.80 414.25,446.80 C417.77,446.80 419.75,448.52 419.75,452.30 C419.75,456.08 417.77,457.80 414.25,457.80 C410.73,457.80 408.75,456.08 408.75,452.30 Z" fill="#fff" stroke="#444" stroke-width="1"/>
<path d="M419.75,452.30 C419.75,448.52 421.13,446.80 423.57,446.80 C426.02,446.80 427.40,448.52 427.40,452.30 C427.40,456.08 426.02,457.80 423.57,457.80 C421.13,457.80 419.75,456.08 419.75,452.30 Z" fill="#fff" stroke="#444" stroke-width="1"/>
<rect x="387.90" y="462.50" width="22.80" height="12.70" rx="0" stroke="#555" stroke-width="1.0" fill="#fff"/>
<rect x="385.50" y="475.20" width="27.60" height="7.00" rx="1" stroke="#555" stroke-width="1.2" fill="#fff"/>
<line x1="390.20" y1="475.20" x2="390.20" y2="482.20" stroke="#555" stroke-width="0.8" />
<line x1="391.80" y1="475.20" x2="391.80" y2="482.20" stroke="#555" stroke-width="0.8" />
<line x1="406.00" y1="475.20" x2="406.00" y2="482.20" stroke="#555" stroke-width="0.8" />
<line x1="408.40" y1="475.20" x2="408.40" y2="482.20" stroke="#555" stroke-width="0.8" />
<rect x="388.70" y="482.20" width="21.30" height="5.60" rx="0" stroke="#555" stroke-width="1.0" fill="#fff"/>
<path d="M391,487.8 L394,492 Q395.5,494 399.3,494 Q403,494 404.5,492 L407.6,487.8" stroke="#555" stroke-width="1.0" fill="#fff" />
<line x1="391.50" y1="489.00" x2="407.00" y2="489.00" stroke="#777" stroke-width="1.4" />
<path d="M239.1,185.8 L239.1,110 C239.1,63 204,23.99 163,22.56 L41.4,18.3 L41.4,43" stroke="#111" stroke-width="2" fill="none" />
<path d="M41.4,42.7 L160,45.9 C219,47.5 215.1,97 215.1,105 L215.1,185.8" stroke="#111" stroke-width="2" fill="none" />
<path d="M48.6,44 A8.849999999999998,5.200000000000003 0 0 1 66.3,44 Z" stroke="#111" stroke-width="1.7" fill="#fff" />
<rect x="54.00" y="41.60" width="7.00" height="2.40" stroke="#111" stroke-width="1.5" fill="#fff" />
<path d="M73.6,46.2 A8.300000000000004,5.800000000000004 0 0 1 90.2,46.2 Z" stroke="#111" stroke-width="1.7" fill="#fff" />
<rect x="80.30" y="44.40" width="3.10" height="1.80" stroke="#111" stroke-width="1.5" fill="#fff" />
<line x1="15.00" y1="44.00" x2="41.40" y2="44.00" stroke="#1a1a1a" stroke-width="1.15" />
<line x1="41.40" y1="44.00" x2="41.40" y2="166.00" stroke="#1a1a1a" stroke-width="1.15" />
<line x1="56.20" y1="47.00" x2="56.20" y2="130.60" stroke="#1a1a1a" stroke-width="1.15" />
<line x1="81.90" y1="47.00" x2="81.90" y2="108.00" stroke="#1a1a1a" stroke-width="1.15" />
<line x1="24.80" y1="50.00" x2="24.80" y2="278.00" stroke="#1a1a1a" stroke-width="1.15" />
<polygon points="24.80,47.50 27.40,56.50 22.20,56.50" fill="#1a1a1a"/>
<polygon points="24.80,278.60 22.20,269.60 27.40,269.60" fill="#1a1a1a"/>
<line x1="86.00" y1="101.80" x2="216.00" y2="101.80" stroke="#1a1a1a" stroke-width="1.15" />
<polygon points="84.10,101.80 93.10,99.20 93.10,104.40" fill="#1a1a1a"/>
<polygon points="224.90,101.80 215.90,104.40 215.90,99.20" fill="#1a1a1a"/>
<line x1="60.00" y1="125.20" x2="216.00" y2="125.20" stroke="#1a1a1a" stroke-width="1.15" />
<polygon points="59.00,125.20 68.00,122.60 68.00,127.80" fill="#1a1a1a"/>
<polygon points="224.30,125.20 215.30,127.80 215.30,122.60" fill="#1a1a1a"/>
<line x1="46.00" y1="159.00" x2="214.00" y2="159.00" stroke="#1a1a1a" stroke-width="1.15" />
<polygon points="44.00,159.00 53.00,156.40 53.00,161.60" fill="#1a1a1a"/>
<polygon points="222.50,159.00 213.50,161.60 213.50,156.40" fill="#1a1a1a"/>
<line x1="14.20" y1="281.80" x2="303.30" y2="281.80" stroke="#1a1a1a" stroke-width="1.15" />
<line x1="208.10" y1="198.30" x2="208.10" y2="275.90" stroke="#111" stroke-width="2" />
<line x1="246.70" y1="198.30" x2="246.70" y2="275.90" stroke="#111" stroke-width="2" />
<line x1="246.70" y1="185.80" x2="303.40" y2="185.80" stroke="#1a1a1a" stroke-width="1.15" />
<polygon points="223.56,222.79 164.36,165.62 158.25,171.95 217.45,229.12" fill="#fff" stroke="#666" stroke-width="1.45"/>
<polygon points="237.95,229.12 297.15,171.95 291.04,165.62 231.84,222.79" fill="#fff" stroke="#666" stroke-width="1.45"/>
<rect x="208.10" y="185.80" width="38.60" height="12.50" stroke="#111" stroke-width="2.0" fill="#fff" />
<rect x="223.40" y="139.80" width="8.20" height="76.20" stroke="#111" stroke-width="2" fill="#fff" />
<line x1="227.30" y1="100.00" x2="227.30" y2="214.00" stroke="#111" stroke-width="1.5" stroke-dasharray="4 2.6"/>
<circle cx="227.7" cy="232.9" r="18.7" fill="#fff" stroke="#111" stroke-width="2.1"/>
<text x="211.3" y="234.8" font-size="8.6" fill="#111" textLength="31.5" lengthAdjust="spacingAndGlyphs" stroke="#111" stroke-width="0.2">paulmark</text>
<rect x="204.10" y="275.90" width="46.10" height="5.90" stroke="#111" stroke-width="2.0" fill="#fff" />
<path d="M221.9,146.6 A87,87 0 0 0 171.2,169.2" stroke="#1a1a1a" stroke-width="1.1" fill="none" />
<polygon points="221.90,146.60 213.20,150.08 212.69,144.91" fill="#1a1a1a"/>
<polygon points="171.20,169.20 175.73,161.00 179.40,164.67" fill="#1a1a1a"/>
<path d="M234.3,146.6 A87,87 0 0 1 284.1,169.2" stroke="#1a1a1a" stroke-width="1.1" fill="none" />
<polygon points="234.30,146.60 243.51,144.91 243.00,150.08" fill="#1a1a1a"/>
<polygon points="284.10,169.20 275.90,164.67 279.57,161.00" fill="#1a1a1a"/>
<line x1="300.50" y1="192.00" x2="300.50" y2="276.00" stroke="#1a1a1a" stroke-width="1.15" />
<polygon points="300.50,189.20 302.40,195.60 298.60,195.60" fill="#1a1a1a"/>
<polygon points="300.50,278.20 298.60,271.80 302.40,271.80" fill="#1a1a1a"/>
<line x1="249.00" y1="233.10" x2="274.90" y2="233.10" stroke="#1a1a1a" stroke-width="1.15" />
<line x1="270.20" y1="240.00" x2="270.20" y2="277.00" stroke="#1a1a1a" stroke-width="1.15" />
<polygon points="270.20,236.80 272.10,243.20 268.30,243.20" fill="#1a1a1a"/>
<polygon points="270.20,279.70 268.30,273.30 272.10,273.30" fill="#1a1a1a"/>
<line x1="154.00" y1="268.30" x2="244.00" y2="268.30" stroke="#1a1a1a" stroke-width="1.15" />
<polygon points="209.50,268.30 216.00,266.30 216.00,270.30" fill="#1a1a1a"/>
<polygon points="244.20,268.30 237.70,270.30 237.70,266.30" fill="#1a1a1a"/>
<text x="137" y="99.2" font-size="19" fill="#111" textLength="28.5" lengthAdjust="spacingAndGlyphs" >168</text>
<text x="129.5" y="121.8" font-size="19" fill="#111" textLength="26.5" lengthAdjust="spacingAndGlyphs" >197</text>
<text x="121.5" y="156.5" font-size="19" fill="#111" textLength="27" lengthAdjust="spacingAndGlyphs" >215</text>
<text x="21.9" y="164.6" font-size="20.5" fill="#111" textLength="28" lengthAdjust="spacingAndGlyphs" transform="rotate(-90 21.9 164.6)" >274</text>
<text x="170" y="145.4" font-size="19" fill="#111" textLength="30" lengthAdjust="spacingAndGlyphs" >45°</text>
<text x="264.5" y="145.4" font-size="19" fill="#111" textLength="29" lengthAdjust="spacingAndGlyphs" >45°</text>
<text x="297" y="244.2" font-size="19.5" fill="#111" textLength="18.8" lengthAdjust="spacingAndGlyphs" transform="rotate(-90 297 244.2)" >111</text>
<text x="267.2" y="271.2" font-size="14.8" fill="#111" textLength="28" lengthAdjust="spacingAndGlyphs" transform="rotate(-90 267.2 271.2)" >56,5</text>
<text x="163.5" y="264.7" font-size="16.5" fill="#111" textLength="31" lengthAdjust="spacingAndGlyphs" >Ø45</text>
<line x1="338.00" y1="18.90" x2="401.00" y2="18.90" stroke="#1a1a1a" stroke-width="1.15" />
<text x="339.1" y="157.4" font-size="20" fill="#111" textLength="34.6" lengthAdjust="spacingAndGlyphs" transform="rotate(-90 339.1 157.4)" >305</text>
<line x1="343.30" y1="24.00" x2="343.30" y2="272.00" stroke="#1a1a1a" stroke-width="1.15" />
<polygon points="343.30,20.90 345.90,28.90 340.70,28.90" fill="#1a1a1a"/>
<polygon points="343.30,278.00 340.70,269.50 345.90,269.50" fill="#1a1a1a"/>
<circle cx="407.4" cy="30" r="11.7" fill="#fff" stroke="#111" stroke-width="2"/>
<path d="M398.3,40 L399.5,47.9 L415.5,47.9 L416.5,40" stroke="#111" stroke-width="1.6" fill="none" />
<line x1="399.00" y1="45.00" x2="416.00" y2="45.00" stroke="#111" stroke-width="1.4" />
<line x1="395.30" y1="31.70" x2="395.30" y2="186.00" stroke="#111" stroke-width="2" />
<line x1="419.40" y1="31.70" x2="419.40" y2="186.00" stroke="#111" stroke-width="2" />
<line x1="395.30" y1="103.40" x2="419.40" y2="103.40" stroke="#111" stroke-width="1.6" />
<line x1="419.40" y1="115.50" x2="468.70" y2="115.50" stroke="#1a1a1a" stroke-width="1.15" />
<polygon points="395.60,115.50 402.20,113.60 402.20,117.40" fill="#1a1a1a"/>
<polygon points="419.10,115.50 412.50,117.40 412.50,113.60" fill="#1a1a1a"/>
<line x1="400.00" y1="115.50" x2="415.00" y2="115.50" stroke="#1a1a1a" stroke-width="1.15" />
<text x="431" y="112.7" font-size="16.5" fill="#111" textLength="30" lengthAdjust="spacingAndGlyphs" >Ø28</text>
<rect x="388.00" y="186.00" width="38.80" height="11.60" stroke="#111" stroke-width="2.0" fill="#fff" />
<path d="M388,197.6 L388,216 Q388,218.8 385,218.8 L377.3,218.8 M377.3,247.3 L385,247.3 Q387.8,247.3 387.8,250 L387.8,275.3 M426.8,197.6 L426.8,211 Q426.8,214 430,214 L447.9,214 L447.9,251.8 L430,251.8 Q427,251.8 427,255 L427,275.3" stroke="#111" stroke-width="2" fill="none" />
<rect x="353.00" y="218.80" width="24.30" height="28.50" stroke="#111" stroke-width="2.0" fill="#fff" />
<rect x="358.60" y="201.30" width="7.00" height="17.50" stroke="#111" stroke-width="1.8" fill="#fff" />
<circle cx="361.6" cy="248.5" r="1.6" fill="#111"/>
<line x1="450.20" y1="215.20" x2="450.20" y2="250.00" stroke="#111" stroke-width="1.5" />
<path d="M452.2,213.2 L478.4,213.2 L478.4,251.8 L457.7,251.8 L452.8,233 L452.2,213.2" stroke="#111" stroke-width="2" fill="none" />
<rect x="467.40" y="139.70" width="9.20" height="74.30" stroke="#111" stroke-width="2" fill="#fff" />
<polygon points="463.80,212.80 487.00,225.00 469.90,259.80 451.60,251.20" fill="none" stroke="#6e6e6e" stroke-width="1.3"/>
<polygon points="479.60,214.60 510.60,154.50 516.30,157.00 485.70,223.20" fill="none" stroke="#6e6e6e" stroke-width="1.3"/>
<line x1="471.90" y1="124.20" x2="471.90" y2="139.70" stroke="#1a1a1a" stroke-width="1.15" />
<line x1="476.60" y1="139.70" x2="538.90" y2="139.70" stroke="#1a1a1a" stroke-width="1.15" />
<line x1="519.00" y1="140.50" x2="513.20" y2="152.30" stroke="#1a1a1a" stroke-width="1.2" />
<path d="M474.3,128.2 Q498,131 515.7,142.4" stroke="#1a1a1a" stroke-width="1.1" fill="none" />
<polygon points="473.50,128.20 482.71,126.51 482.20,131.68" fill="#1a1a1a"/>
<polygon points="516.50,142.60 507.74,139.28 510.86,135.12" fill="#1a1a1a"/>
<text x="491.3" y="126.8" font-size="16.5" fill="#111" textLength="26" lengthAdjust="spacingAndGlyphs" >25°</text>
<line x1="534.60" y1="146.00" x2="534.60" y2="245.00" stroke="#1a1a1a" stroke-width="1.15" />
<polygon points="534.60,142.40 537.20,151.40 532.00,151.40" fill="#1a1a1a"/>
<polygon points="534.60,248.50 532.00,239.50 537.20,239.50" fill="#1a1a1a"/>
<line x1="478.40" y1="251.80" x2="539.00" y2="251.80" stroke="#1a1a1a" stroke-width="1.15" />
<text x="531" y="210.1" font-size="18" fill="#111" textLength="27" lengthAdjust="spacingAndGlyphs" transform="rotate(-90 531 210.1)" >130</text>
<line x1="384.40" y1="258.80" x2="384.40" y2="276.00" stroke="#1a1a1a" stroke-width="1.15" />
<line x1="430.30" y1="258.80" x2="430.30" y2="276.00" stroke="#1a1a1a" stroke-width="1.15" />
<line x1="390.00" y1="268.10" x2="425.00" y2="268.10" stroke="#1a1a1a" stroke-width="1.15" />
<polygon points="388.50,268.10 394.00,266.40 394.00,269.80" fill="#1a1a1a"/>
<polygon points="427.00,268.10 421.50,269.80 421.50,266.40" fill="#1a1a1a"/>
<text x="390" y="265.2" font-size="15" fill="#111" textLength="31.5" lengthAdjust="spacingAndGlyphs" >Ø53</text>
<rect x="384.20" y="275.30" width="46.40" height="6.90" stroke="#111" stroke-width="2.0" fill="#fff" />
<line x1="338.20" y1="282.20" x2="384.00" y2="282.20" stroke="#1a1a1a" stroke-width="1.15" />
<line x1="353.00" y1="252.00" x2="353.00" y2="305.30" stroke="#1a1a1a" stroke-width="1.15" />
<line x1="477.50" y1="255.50" x2="477.50" y2="305.30" stroke="#1a1a1a" stroke-width="1.15" />
<line x1="360.00" y1="301.20" x2="470.00" y2="301.20" stroke="#1a1a1a" stroke-width="1.15" />
<polygon points="356.30,301.20 365.30,298.60 365.30,303.80" fill="#1a1a1a"/>
<polygon points="474.60,301.20 465.60,303.80 465.60,298.60" fill="#1a1a1a"/>
<text x="394" y="298" font-size="16" fill="#111" textLength="23.5" lengthAdjust="spacingAndGlyphs" >144</text>
<line x1="336.00" y1="316.90" x2="363.40" y2="316.90" stroke="#1a1a1a" stroke-width="1.15" />
<line x1="343.30" y1="286.00" x2="343.30" y2="312.00" stroke="#1a1a1a" stroke-width="1.15" />
<polygon points="343.30,284.00 345.90,293.00 340.70,293.00" fill="#1a1a1a"/>
<polygon points="343.30,313.80 340.70,305.30 345.90,305.30" fill="#1a1a1a"/>
<line x1="342.80" y1="319.00" x2="342.80" y2="437.20" stroke="#1a1a1a" stroke-width="1.15" />
<text x="340.5" y="435.6" font-size="18" fill="#111" textLength="100.5" lengthAdjust="spacingAndGlyphs" transform="rotate(-90 340.5 435.6)" >Max 45-Min1</text>
<ellipse cx="600.3" cy="141.4" rx="33.2" ry="5.1" fill="none" stroke="#1a1a1a" stroke-width="1.15"/>
<rect x="583.5" y="134" width="35.2" height="6.5" fill="#fff"/>
<path d="M588,185.6 L588,100 C588,54 627,23.9 676,22.14 L785.8,18.3 L785.8,43" stroke="#111" stroke-width="2" fill="none" />
<path d="M785.8,42.7 L696,45.1 C686,45.4 611.6,39 611.6,100 L611.6,185.6" stroke="#111" stroke-width="2" fill="none" />
<g transform="translate(827.2,0) scale(-1,1)">
<path d="M48.6,44 A8.849999999999998,5.200000000000003 0 0 1 66.3,44 Z" stroke="#111" stroke-width="1.7" fill="#fff" />
<rect x="54.00" y="41.60" width="7.00" height="2.40" stroke="#111" stroke-width="1.5" fill="#fff" />
<path d="M73.6,46.2 A8.300000000000004,5.800000000000004 0 0 1 90.2,46.2 Z" stroke="#111" stroke-width="1.7" fill="#fff" />
<rect x="80.30" y="44.40" width="3.10" height="1.80" stroke="#111" stroke-width="1.5" fill="#fff" />
</g>
<polygon points="584.00,137.10 576.14,141.12 575.19,136.41" fill="#1a1a1a"/>
<polygon points="618.30,137.10 627.11,136.41 626.16,141.12" fill="#1a1a1a"/>
<text x="631.6" y="131.4" font-size="17.5" fill="#111" textLength="36.5" lengthAdjust="spacingAndGlyphs" >360°</text>
<rect x="580.40" y="185.60" width="39.30" height="12.10" stroke="#111" stroke-width="2.0" fill="#fff" />
<line x1="580.70" y1="197.70" x2="580.70" y2="275.80" stroke="#111" stroke-width="2" />
<line x1="619.60" y1="197.70" x2="619.60" y2="275.80" stroke="#111" stroke-width="2" />
<rect x="596.80" y="201.50" width="6.70" height="17.50" stroke="#111" stroke-width="1.8" fill="#fff" />
<circle cx="599.9" cy="232.9" r="14.2" fill="#fff" stroke="#111" stroke-width="2"/>
<circle cx="599.9" cy="247.4" r="1.9" fill="#111"/>
<rect x="614.50" y="228.30" width="16.60" height="7.10" stroke="#6e6e6e" stroke-width="1.3" fill="#fff" />
<path d="M609.5,202.6 A31,31 0 0 1 627.6,219" stroke="#1a1a1a" stroke-width="1.1" fill="none" />
<polygon points="607.60,202.40 614.88,201.71 614.05,205.83" fill="#1a1a1a"/>
<polygon points="628.20,224.30 624.77,217.85 628.89,217.02" fill="#1a1a1a"/>
<text x="626.5" y="210.8" font-size="16" fill="#111" textLength="26.5" lengthAdjust="spacingAndGlyphs" >90°</text>
<rect x="576.60" y="275.80" width="46.40" height="6.00" stroke="#111" stroke-width="2.0" fill="#fff" />
</svg></body></html>
